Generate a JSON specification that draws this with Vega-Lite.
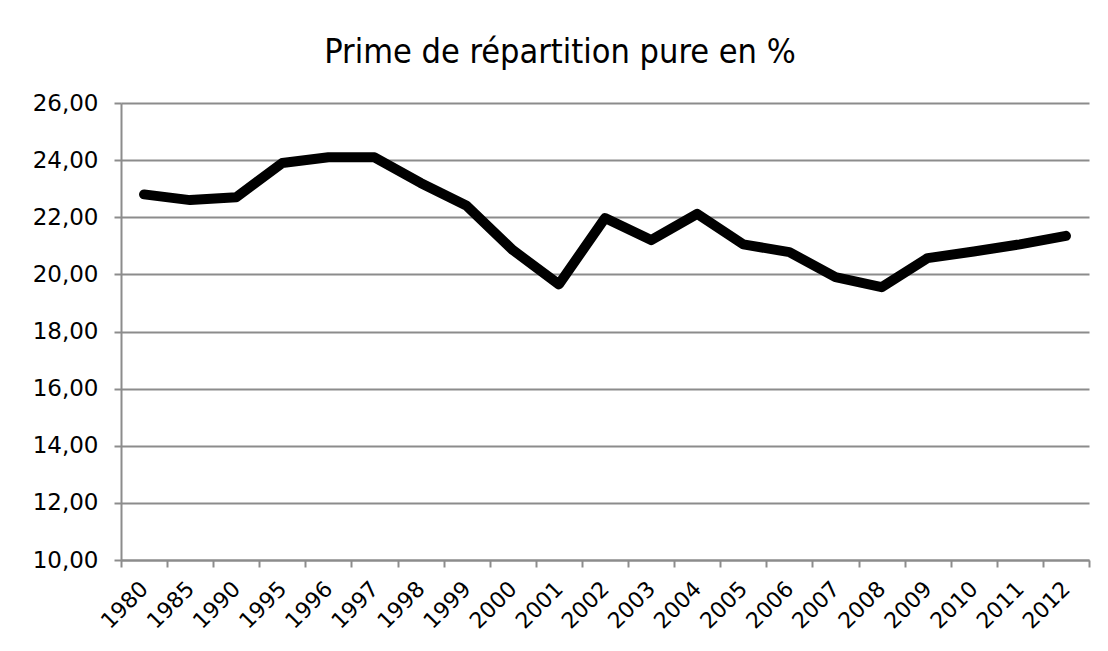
{
  "$schema": "https://vega.github.io/schema/vega-lite/v6.json",
  "autosize": "none",
  "width": 968,
  "height": 457,
  "padding": {"left": 121, "top": 103, "right": 19, "bottom": 91},
  "background": "white",
  "title": {
    "text": "Prime de répartition pure en %",
    "fontSize": 34,
    "font": "DejaVu Sans Condensed, Roboto, sans-serif",
    "fontWeight": "normal",
    "color": "black",
    "anchor": "middle",
    "frame": "group",
    "offset": 22,
    "dx": -45
  },
  "data": {
    "values": [
      {"annee": "1980", "prime": 22.8},
      {"annee": "1985", "prime": 22.6},
      {"annee": "1990", "prime": 22.7},
      {"annee": "1995", "prime": 23.9},
      {"annee": "1996", "prime": 24.1},
      {"annee": "1997", "prime": 24.1},
      {"annee": "1998", "prime": 23.2},
      {"annee": "1999", "prime": 22.4},
      {"annee": "2000", "prime": 20.85},
      {"annee": "2001", "prime": 19.65},
      {"annee": "2002", "prime": 21.97},
      {"annee": "2003", "prime": 21.2},
      {"annee": "2004", "prime": 22.12},
      {"annee": "2005", "prime": 21.05},
      {"annee": "2006", "prime": 20.78},
      {"annee": "2007", "prime": 19.9},
      {"annee": "2008", "prime": 19.55},
      {"annee": "2009", "prime": 20.57},
      {"annee": "2010", "prime": 20.8},
      {"annee": "2011", "prime": 21.05},
      {"annee": "2012", "prime": 21.35}
    ]
  },
  "mark": {"type": "line", "color": "black", "strokeWidth": 10, "strokeCap": "round", "strokeJoin": "round"},
  "encoding": {
    "x": {
      "field": "annee",
      "type": "ordinal",
      "bandPosition": 0.5,
      "sort": null,
      "scale": {"type": "band", "paddingInner": 0, "paddingOuter": 0},
      "axis": {
        "title": null,
        "tickBand": "extent",
        "grid": false,
        "labelAngle": -45,
        "labelAlign": "right",
        "labelBaseline": "middle",
        "labelPadding": 18,
        "labelFontSize": 22,
        "labelFont": "DejaVu Sans",
        "labelColor": "black",
        "domainColor": "#8c8c8c",
        "domainWidth": 2,
        "tickColor": "#8c8c8c",
        "tickWidth": 2,
        "tickSize": 7
      }
    },
    "y": {
      "field": "prime",
      "type": "quantitative",
      "scale": {"domain": [10, 26], "nice": false, "zero": false},
      "axis": {
        "title": null,
        "values": [10, 12, 14, 16, 18, 20, 22, 24, 26],
        "labelExpr": "replace(format(datum.value, '.2f'), '.', ',')",
        "labelFontSize": 23,
        "labelFont": "DejaVu Sans",
        "labelColor": "black",
        "labelPadding": 16,
        "grid": true,
        "gridColor": "#8c8c8c",
        "gridWidth": 2,
        "domainColor": "#8c8c8c",
        "domainWidth": 2,
        "tickColor": "#8c8c8c",
        "tickWidth": 2,
        "tickSize": 7
      }
    }
  },
  "config": {"view": {"stroke": null}}
}
